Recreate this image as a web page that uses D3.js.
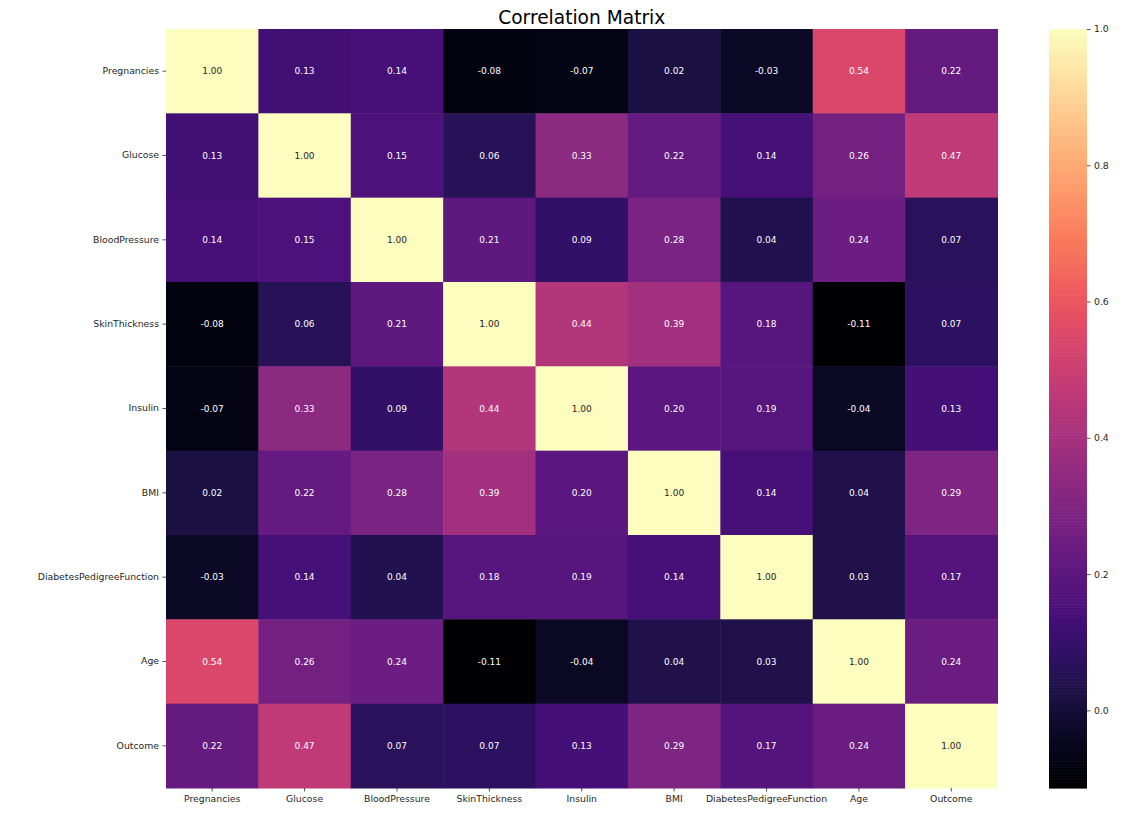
<!DOCTYPE html>
<html><head><meta charset="utf-8">
<script src="https://cdn.jsdelivr.net/npm/d3@7"></script>
<style>body{margin:0;background:#fff;} text{font-family:"DejaVu Sans",sans-serif;}</style>
</head><body>
<svg id="chart" width="1130" height="831"></svg>
<script>
const categories = ["Pregnancies","Glucose","BloodPressure","SkinThickness","Insulin","BMI","DiabetesPedigreeFunction","Age","Outcome"];
const rowPregnancies = [1.0, 0.129, 0.141, -0.082, -0.074, 0.018, -0.034, 0.544, 0.222];
const rowGlucose = [0.129, 1.0, 0.153, 0.057, 0.331, 0.221, 0.137, 0.264, 0.467];
const rowBloodPressure = [0.141, 0.153, 1.0, 0.207, 0.089, 0.282, 0.041, 0.240, 0.065];
const rowSkinThickness = [-0.082, 0.057, 0.207, 1.0, 0.437, 0.393, 0.184, -0.114, 0.075];
const rowInsulin = [-0.074, 0.331, 0.089, 0.437, 1.0, 0.198, 0.1851, -0.042, 0.131];
const rowBMI = [0.018, 0.221, 0.282, 0.393, 0.198, 1.0, 0.141, 0.036, 0.293];
const rowDPF = [-0.034, 0.137, 0.041, 0.184, 0.1851, 0.141, 1.0, 0.034, 0.174];
const rowAge = [0.544, 0.264, 0.240, -0.114, -0.042, 0.036, 0.034, 1.0, 0.238];
const rowOutcome = [0.222, 0.467, 0.065, 0.075, 0.131, 0.293, 0.174, 0.238, 1.0];
const matrix = [rowPregnancies,rowGlucose,rowBloodPressure,rowSkinThickness,rowInsulin,rowBMI,rowDPF,rowAge,rowOutcome];
const colorbarTicks = [0.0, 0.2, 0.4, 0.6, 0.8, 1.0];
const title = "Correlation Matrix";

const svg = d3.select("#chart");
const L = 166, R = 997.5, T = 29, B = 788;
const FS = 9.3;
const x = d3.scaleBand().domain(categories).range([L, R]);
const y = d3.scaleBand().domain(categories).range([T, B]);
const vmin = d3.min(matrix.flat()), vmax = d3.max(matrix.flat());
const color = d3.scaleSequential(d3.interpolateMagma).domain([vmin, vmax]);

const cells = [];
matrix.forEach((row, i) => row.forEach((v, j) => cells.push({r: categories[i], c: categories[j], v})));

svg.append("g").selectAll("rect").data(cells).join("rect")
  .attr("x", d => x(d.c)).attr("y", d => y(d.r))
  .attr("width", x.bandwidth() + 0.5).attr("height", y.bandwidth() + 0.5)
  .attr("fill", d => color(d.v));

function lum(c){
  const rgb = d3.rgb(c);
  const f = v => { v/=255; return v <= 0.03928 ? v/12.92 : Math.pow((v+0.055)/1.055, 2.4); };
  return 0.2126*f(rgb.r)+0.7152*f(rgb.g)+0.0722*f(rgb.b);
}
svg.append("g").selectAll("text").data(cells).join("text")
  .attr("x", d => x(d.c) + x.bandwidth()/2).attr("y", d => y(d.r) + y.bandwidth()/2)
  .attr("text-anchor", "middle").attr("dominant-baseline", "central")
  .attr("font-size", 9)
  .attr("fill", d => lum(color(d.v)) > 0.408 ? "#262626" : "#ffffff")
  .text(d => d3.format(".2f")(d.v).replace("−","-"));

const yAxis = svg.append("g").attr("transform", `translate(${L},0)`)
  .call(d3.axisLeft(y).tickSize(3.5).tickPadding(3.5));
yAxis.select(".domain").remove();
yAxis.selectAll("text").attr("font-size", FS).attr("font-family", "DejaVu Sans").attr("fill", "#262626");
yAxis.selectAll("line").attr("stroke", "#262626").attr("stroke-width", 0.8);

const xAxis = svg.append("g").attr("transform", `translate(0,${B})`)
  .call(d3.axisBottom(x).tickSize(3.5).tickPadding(3.5));
xAxis.select(".domain").remove();
xAxis.selectAll("text").attr("font-size", FS).attr("font-family", "DejaVu Sans").attr("fill", "#262626");
xAxis.selectAll("line").attr("stroke", "#262626").attr("stroke-width", 0.8);

svg.append("text").attr("x", (L+R)/2).attr("y", 24).attr("text-anchor", "middle")
  .attr("font-size", 18.6).attr("fill", "#000").text(title);

// colorbar
const cbL = 1049, cbR = 1087;
const cy = d3.scaleLinear().domain([vmin, vmax]).range([B, T]);
const steps = d3.range(0, 256);
svg.append("g").selectAll("rect").data(steps).join("rect")
  .attr("x", cbL).attr("width", cbR - cbL)
  .attr("y", d => cy(vmin + (d+1)/256*(vmax-vmin)))
  .attr("height", (B-T)/256 + 0.6)
  .attr("fill", d => color(vmin + (d+0.5)/256*(vmax-vmin)));
const cAxis = svg.append("g").attr("transform", `translate(${cbR},0)`)
  .call(d3.axisRight(cy).tickValues(colorbarTicks).tickFormat(d3.format(".1f")).tickSize(3.5).tickPadding(3.5));
cAxis.select(".domain").remove();
cAxis.selectAll("text").attr("font-size", FS).attr("font-family", "DejaVu Sans").attr("fill", "#262626");
cAxis.selectAll("line").attr("stroke", "#262626").attr("stroke-width", 0.8);
</script>
</body></html>
